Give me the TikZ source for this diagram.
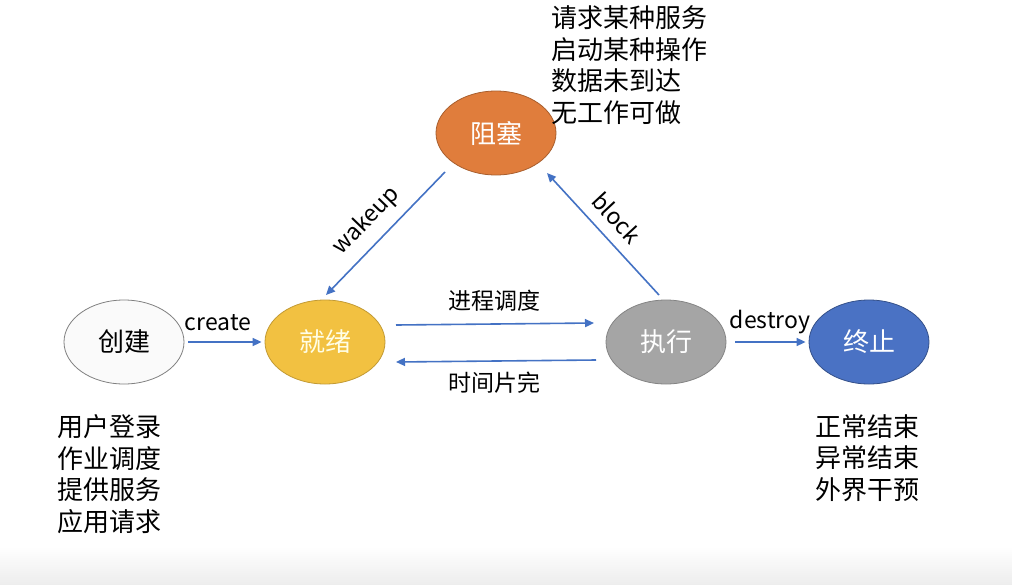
\documentclass[tikz,border=0pt]{standalone}
\usepackage{fontspec}
\setmainfont{Noto Sans CJK SC}
\usetikzlibrary{arrows.meta,calc,shapes.geometric}

\definecolor{arrowblue}{HTML}{4472C4}
\definecolor{blockorange}{HTML}{E07D3C}
\definecolor{readygold}{HTML}{F2C141}
\definecolor{rungray}{HTML}{A5A5A5}
\definecolor{endblue}{HTML}{4A72C4}

\tikzset{
  state/.style={ellipse, minimum width=120pt, minimum height=84pt, inner sep=0pt,
    line width=0.8pt, font=\fontsize{26}{30}\selectfont},
  arr/.style={draw=arrowblue, line width=1.6pt, -{Triangle[length=9pt,width=8pt]}},
  elabel/.style={inner sep=0pt, font=\fontsize{23}{27}\selectfont},
  notes/.style={inner sep=0pt, align=left, font=\fontsize{26}{31.5}\selectfont}
}

\begin{document}
\begin{tikzpicture}[x=1pt,y=-1pt]
  \useasboundingbox (0,0) rectangle (1012,584);
  \fill[white] (0,0) rectangle (1012,584);
  \shade[top color=white, bottom color=black!7] (0,546) rectangle (1012,584);

  % process states
  \node[state, draw=black!50, fill=black!2] (cj) at (124,342) {创建};
  \node[state, draw=readygold!80!black, fill=readygold, text=yellow!10] (jx) at (325,342) {就绪};
  \node[state, draw=blockorange!75!black, fill=blockorange, text=white] (zs) at (496,133) {阻塞};
  \node[state, draw=rungray!80!black, fill=rungray, text=white] (zx) at (666,342) {执行};
  \node[state, draw=endblue!70!black, fill=endblue, text=white] (zz) at (869,342) {终止};

  % transitions
  \draw[arr, shorten <=4pt, shorten >=3pt] (cj) -- (jx);
  \node[elabel] (lcreate) at (218,323) {create};

  \draw[arr] ($(jx.center)+(71,-17)$) -- ($(zx.center)+(-72,-19)$);
  \node[elabel] (lsched) at (494,301) {进程调度};

  \draw[arr] ($(zx.center)+(-70,18)$) -- ($(jx.center)+(71,20)$);
  \node[elabel] (lslice) at (494,383) {时间片完};

  \draw[arr, shorten <=9pt, shorten >=3pt] (zx) -- (zz);
  \node[elabel] (ldestroy) at (770,322) {destroy};

  \draw[arr] ($(zs.center)+(-51,39)$) -- ($(jx.center)+(1,-47)$);
  \node[elabel, rotate=46] (lwake) at (366,221) {wakeup};

  \draw[arr] ($(zx.center)+(-7,-47)$) -- ($(zs.center)+(51,40)$);
  \node[elabel, rotate=-47] (lblock) at (617,218) {block};

  % causes of each transition
  \node[notes, anchor=west] (ncreate) at (57,474) {用户登录\\作业调度\\提供服务\\应用请求};
  \node[notes, anchor=west] (nblock) at (551,65) {请求某种服务\\启动某种操作\\数据未到达\\无工作可做};
  \node[notes, anchor=west] (nend) at (815,458) {正常结束\\异常结束\\外界干预};
\end{tikzpicture}
\end{document}
